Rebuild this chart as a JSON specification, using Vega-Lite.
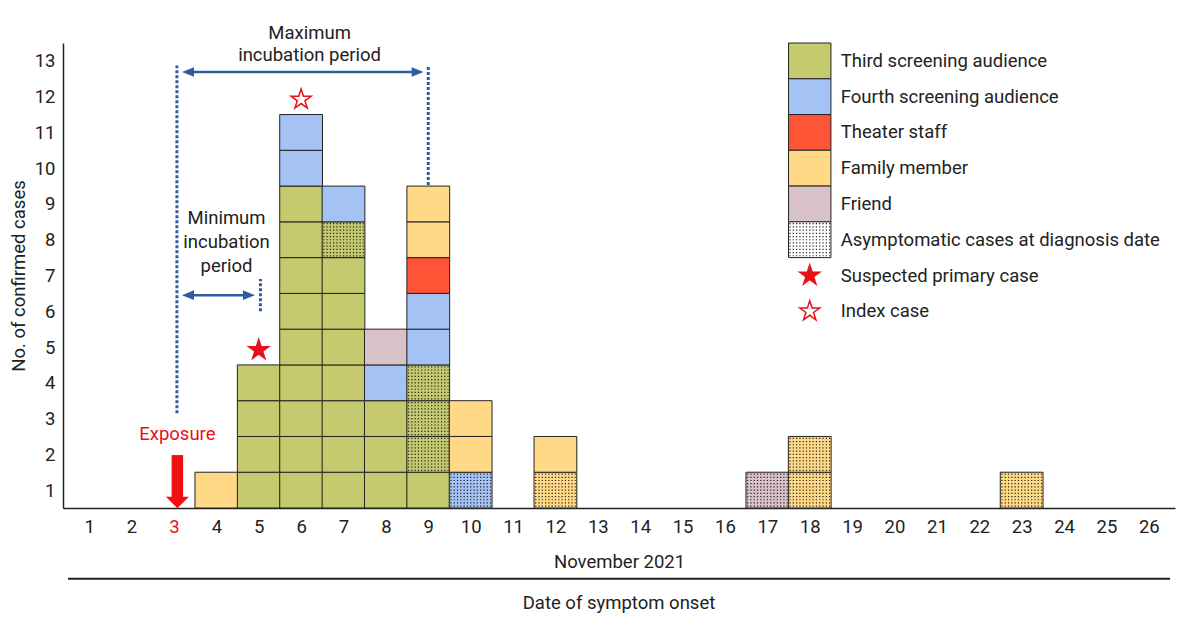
{
  "$schema": "https://vega.github.io/schema/vega-lite/v6.json",
  "width": 1112,
  "height": 465,
  "autosize": {"type": "none"},
  "padding": {"left": 63, "top": 43, "right": 25, "bottom": 123},
  "background": "white",
  "config": {
    "view": {"stroke": null},
    "font": "Roboto",
    "axis": {"grid": false, "ticks": false, "labelFontSize": 18.5, "titleFontSize": 18.5, "titleFontWeight": "normal", "domainColor": "#222", "domainWidth": 1.5, "labelColor": "#222", "titleColor": "#222", "labelFont": "Roboto", "titleFont": "Roboto", "labelOverlap": false}
  },
  "datasets": {
    "cells": [
      {"day": 4, "level": 1, "group": "Family member", "asym": false},
      {"day": 5, "level": 1, "group": "Third screening audience", "asym": false},
      {"day": 5, "level": 2, "group": "Third screening audience", "asym": false},
      {"day": 5, "level": 3, "group": "Third screening audience", "asym": false},
      {"day": 5, "level": 4, "group": "Third screening audience", "asym": false},
      {"day": 6, "level": 1, "group": "Third screening audience", "asym": false},
      {"day": 6, "level": 2, "group": "Third screening audience", "asym": false},
      {"day": 6, "level": 3, "group": "Third screening audience", "asym": false},
      {"day": 6, "level": 4, "group": "Third screening audience", "asym": false},
      {"day": 6, "level": 5, "group": "Third screening audience", "asym": false},
      {"day": 6, "level": 6, "group": "Third screening audience", "asym": false},
      {"day": 6, "level": 7, "group": "Third screening audience", "asym": false},
      {"day": 6, "level": 8, "group": "Third screening audience", "asym": false},
      {"day": 6, "level": 9, "group": "Third screening audience", "asym": false},
      {"day": 6, "level": 10, "group": "Fourth screening audience", "asym": false},
      {"day": 6, "level": 11, "group": "Fourth screening audience", "asym": false},
      {"day": 7, "level": 1, "group": "Third screening audience", "asym": false},
      {"day": 7, "level": 2, "group": "Third screening audience", "asym": false},
      {"day": 7, "level": 3, "group": "Third screening audience", "asym": false},
      {"day": 7, "level": 4, "group": "Third screening audience", "asym": false},
      {"day": 7, "level": 5, "group": "Third screening audience", "asym": false},
      {"day": 7, "level": 6, "group": "Third screening audience", "asym": false},
      {"day": 7, "level": 7, "group": "Third screening audience", "asym": false},
      {"day": 7, "level": 8, "group": "Third screening audience", "asym": true},
      {"day": 7, "level": 9, "group": "Fourth screening audience", "asym": false},
      {"day": 8, "level": 1, "group": "Third screening audience", "asym": false},
      {"day": 8, "level": 2, "group": "Third screening audience", "asym": false},
      {"day": 8, "level": 3, "group": "Third screening audience", "asym": false},
      {"day": 8, "level": 4, "group": "Fourth screening audience", "asym": false},
      {"day": 8, "level": 5, "group": "Friend", "asym": false},
      {"day": 9, "level": 1, "group": "Third screening audience", "asym": false},
      {"day": 9, "level": 2, "group": "Third screening audience", "asym": true},
      {"day": 9, "level": 3, "group": "Third screening audience", "asym": true},
      {"day": 9, "level": 4, "group": "Third screening audience", "asym": true},
      {"day": 9, "level": 5, "group": "Fourth screening audience", "asym": false},
      {"day": 9, "level": 6, "group": "Fourth screening audience", "asym": false},
      {"day": 9, "level": 7, "group": "Theater staff", "asym": false},
      {"day": 9, "level": 8, "group": "Family member", "asym": false},
      {"day": 9, "level": 9, "group": "Family member", "asym": false},
      {"day": 10, "level": 1, "group": "Fourth screening audience", "asym": true},
      {"day": 10, "level": 2, "group": "Family member", "asym": false},
      {"day": 10, "level": 3, "group": "Family member", "asym": false},
      {"day": 12, "level": 1, "group": "Family member", "asym": true},
      {"day": 12, "level": 2, "group": "Family member", "asym": false},
      {"day": 17, "level": 1, "group": "Friend", "asym": true},
      {"day": 18, "level": 1, "group": "Family member", "asym": true},
      {"day": 18, "level": 2, "group": "Family member", "asym": true},
      {"day": 23, "level": 1, "group": "Family member", "asym": true}
    ],
    "stars": [
      {"day": 5, "cases": 4, "type": "Suspected primary case"},
      {"day": 6, "cases": 11, "type": "Index case"}
    ],
    "legend": [
      {"label": "Third screening audience", "kind": "swatch"},
      {"label": "Fourth screening audience", "kind": "swatch"},
      {"label": "Theater staff", "kind": "swatch"},
      {"label": "Family member", "kind": "swatch"},
      {"label": "Friend", "kind": "swatch"},
      {"label": "Asymptomatic cases at diagnosis date", "kind": "pattern"},
      {"label": "Suspected primary case", "kind": "filled star"},
      {"label": "Index case", "kind": "open star"}
    ],
    "one": [{}]
  },
  "layer": [
    {
      "layer": [
        {
          "data": {"name": "cells"},
          "mark": {"type": "bar", "width": 42.77, "stroke": "#222", "strokeWidth": 1},
          "encoding": {
            "x": {"field": "day", "type": "quantitative", "scale": {"domain": [0.5, 26.5], "nice": false, "zero": false},
              "axis": {"values": [1,2,3,4,5,6,7,8,9,10,11,12,13,14,15,16,17,18,19,20,21,22,23,24,25,26], "format": "d", "title": "November 2021", "labelPadding": 9, "titlePadding": 17, "labelOverlap": false,
                "labelColor": {"condition": {"test": "datum.value === 3", "value": "#e8101a"}, "value": "#222"}}},
            "y": {"aggregate": "count", "type": "quantitative", "stack": "zero", "scale": {"domain": [0, 13], "nice": false},
              "axis": {"values": [0.5,1.5,2.5,3.5,4.5,5.5,6.5,7.5,8.5,9.5,10.5,11.5,12.5], "tickCount": 20, "labelExpr": "datum.value + 0.5", "title": "No. of confirmed cases", "labelPadding": 8, "titlePadding": 6, "labelOverlap": false, "labelBound": false, "labelFlush": false}},
            "detail": {"field": "level"},
            "order": {"field": "level", "type": "quantitative", "sort": "ascending"},
            "color": {"field": "group", "type": "nominal",
              "scale": {"domain": ["Third screening audience", "Fourth screening audience", "Theater staff", "Family member", "Friend", "Asymptomatic cases at diagnosis date"],
                        "range": ["#c5ca6e", "#a4c2f4", "#ff5436", "#ffd986", "#d9c2c7", "#ffffff"]},
              "legend": null}
          }
        },
        {
          "data": {"name": "cells"},
          "transform": [{"filter": "datum.asym"}],
          "mark": {"type": "point", "shape": "M-0.95,-0.75H0.95M-0.95,-0.6H0.95M-0.95,-0.45H0.95M-0.95,-0.3H0.95M-0.95,-0.15H0.95M-0.95,0H0.95M-0.95,0.15H0.95M-0.95,0.3H0.95M-0.95,0.45H0.95M-0.95,0.6H0.95M-0.95,0.75H0.95",
                   "size": 1829, "filled": false, "stroke": "#222", "strokeWidth": 1.2, "strokeDash": [1.2, 2.1], "opacity": 1, "yOffset": 17.9},
          "encoding": {
            "x": {"field": "day", "type": "quantitative"},
            "y": {"field": "level", "type": "quantitative"}
          }
        },
        {
          "data": {"name": "stars"},
          "mark": {"type": "point", "shape": "M0,-1L0.2245,-0.309L0.951,-0.309L0.363,0.118L0.588,0.809L0,0.382L-0.588,0.809L-0.363,0.118L-0.951,-0.309L-0.2245,-0.309Z",
                   "size": 441, "filled": true, "stroke": "#e8101a", "strokeWidth": 1.5, "opacity": 1, "yOffset": -15},
          "encoding": {
            "x": {"field": "day", "type": "quantitative"},
            "y": {"field": "cases", "type": "quantitative"},
            "fill": {"condition": {"test": "datum.type === 'Index case'", "value": "white"}, "value": "#e8101a"}
          }
        },
        {
          "data": {"name": "one"},
          "mark": {"type": "rule", "stroke": "#2f5b9f", "strokeWidth": 3, "strokeDash": [3, 2]},
          "encoding": {"x": {"datum": 3.07}, "y": {"datum": 2.65}, "y2": {"datum": 12.37}}
        },
        {
          "data": {"name": "one"},
          "mark": {"type": "rule", "stroke": "#2f5b9f", "strokeWidth": 3, "strokeDash": [3, 2]},
          "encoding": {"x": {"datum": 9}, "y": {"datum": 9.03}, "y2": {"datum": 12.33}}
        },
        {
          "data": {"name": "one"},
          "mark": {"type": "rule", "stroke": "#2f5b9f", "strokeWidth": 3, "strokeDash": [3, 2]},
          "encoding": {"x": {"datum": 5.04}, "y": {"datum": 5.5}, "y2": {"datum": 6.4}}
        },
        {
          "data": {"name": "one"},
          "mark": {"type": "rule", "stroke": "#2f5b9f", "strokeWidth": 2.5},
          "encoding": {"x": {"datum": 3.3}, "x2": {"datum": 8.8}, "y": {"datum": 12.19}}
        },
        {
          "data": {"name": "one"},
          "mark": {"type": "rule", "stroke": "#2f5b9f", "strokeWidth": 2.5},
          "encoding": {"x": {"datum": 3.3}, "x2": {"datum": 4.8}, "y": {"datum": 5.95}}
        },
        {
          "data": {"name": "one"},
          "mark": {"type": "point", "shape": "M0,0L2,-0.8L2,0.8Z", "size": 144, "filled": true, "fill": "#2f5b9f", "opacity": 1},
          "encoding": {"x": {"datum": 3.19}, "y": {"datum": 12.19}}
        },
        {
          "data": {"name": "one"},
          "mark": {"type": "point", "shape": "M0,0L-2,-0.8L-2,0.8Z", "size": 144, "filled": true, "fill": "#2f5b9f", "opacity": 1},
          "encoding": {"x": {"datum": 8.89}, "y": {"datum": 12.19}}
        },
        {
          "data": {"name": "one"},
          "mark": {"type": "point", "shape": "M0,0L2,-0.8L2,0.8Z", "size": 144, "filled": true, "fill": "#2f5b9f", "opacity": 1},
          "encoding": {"x": {"datum": 3.19}, "y": {"datum": 5.95}}
        },
        {
          "data": {"name": "one"},
          "mark": {"type": "point", "shape": "M0,0L-2,-0.8L-2,0.8Z", "size": 144, "filled": true, "fill": "#2f5b9f", "opacity": 1},
          "encoding": {"x": {"datum": 4.91}, "y": {"datum": 5.95}}
        },
        {
          "data": {"name": "one"},
          "mark": {"type": "rule", "stroke": "#f01010", "strokeWidth": 11.5, "strokeCap": "butt"},
          "encoding": {"x": {"datum": 3.08}, "y": {"datum": 1.48}, "y2": {"datum": 0.3}}
        },
        {
          "data": {"name": "one"},
          "mark": {"type": "point", "shape": "M-1,-0.5L1,-0.5L0,0.5Z", "size": 529, "filled": true, "fill": "#f01010", "opacity": 1},
          "encoding": {"x": {"datum": 3.08}, "y": {"datum": 0.154}}
        },
        {
          "data": {"name": "one"},
          "mark": {"type": "text", "text": "Exposure", "fontSize": 18.5, "color": "#e8101a", "baseline": "middle", "align": "center"},
          "encoding": {"x": {"datum": 3.08}, "y": {"datum": 2.07}}
        },
        {
          "data": {"name": "one"},
          "mark": {"type": "text", "text": ["Maximum", "incubation period"], "lineHeight": 22.5, "fontSize": 18.5, "color": "#222", "baseline": "middle", "align": "center"},
          "encoding": {"x": {"datum": 6.2}, "y": {"datum": 13.28}}
        },
        {
          "data": {"name": "one"},
          "mark": {"type": "text", "text": ["Minimum", "incubation", "period"], "lineHeight": 24, "fontSize": 18.5, "color": "#222", "baseline": "middle", "align": "center"},
          "encoding": {"x": {"datum": 4.24}, "y": {"datum": 8.11}}
        },
        {
          "data": {"name": "one"},
          "mark": {"type": "rule", "stroke": "#222", "strokeWidth": 2},
          "encoding": {"x": {"datum": 0.5}, "x2": {"datum": 26.5}, "y": {"datum": -1.98}}
        },
        {
          "data": {"name": "one"},
          "mark": {"type": "text", "text": "Date of symptom onset", "fontSize": 18.5, "color": "#222", "baseline": "middle", "align": "center"},
          "encoding": {"x": {"datum": 13.5}, "y": {"datum": -2.66}}
        }
      ]
    },
    {
      "data": {"name": "legend"},
      "encoding": {
        "y": {"field": "label", "type": "nominal", "sort": null, "axis": null,
          "scale": {"type": "band", "paddingInner": 0, "paddingOuter": 0, "range": [0, 286.16],
            "domain": ["Third screening audience", "Fourth screening audience", "Theater staff", "Family member", "Friend", "Asymptomatic cases at diagnosis date", "Suspected primary case", "Index case"]}}
      },
      "layer": [
        {
          "transform": [{"filter": "datum.kind === 'swatch' || datum.kind === 'pattern'"}],
          "mark": {"type": "rect", "stroke": "#222", "strokeWidth": 1},
          "encoding": {
            "x": {"datum": 17.5}, "x2": {"datum": 18.5},
            "color": {"field": "label", "type": "nominal", "legend": null}
          }
        },
        {
          "transform": [{"filter": "datum.kind === 'pattern'"}],
          "mark": {"type": "point", "shape": "M-0.95,-0.75H0.95M-0.95,-0.6H0.95M-0.95,-0.45H0.95M-0.95,-0.3H0.95M-0.95,-0.15H0.95M-0.95,0H0.95M-0.95,0.15H0.95M-0.95,0.3H0.95M-0.95,0.45H0.95M-0.95,0.6H0.95M-0.95,0.75H0.95",
                   "size": 1829, "filled": false, "stroke": "#222", "strokeWidth": 1.2, "strokeDash": [1.2, 2.1], "opacity": 1},
          "encoding": {"x": {"datum": 18}}
        },
        {
          "transform": [{"filter": "datum.kind === 'filled star' || datum.kind === 'open star'"}],
          "mark": {"type": "point", "shape": "M0,-1L0.2245,-0.309L0.951,-0.309L0.363,0.118L0.588,0.809L0,0.382L-0.588,0.809L-0.363,0.118L-0.951,-0.309L-0.2245,-0.309Z",
                   "size": 441, "filled": true, "stroke": "#e8101a", "strokeWidth": 1.5, "opacity": 1},
          "encoding": {
            "x": {"datum": 18},
            "fill": {"condition": {"test": "datum.kind === 'open star'", "value": "white"}, "value": "#e8101a"}
          }
        },
        {
          "mark": {"type": "text", "align": "left", "baseline": "middle", "dx": 31, "fontSize": 18.5, "color": "#222"},
          "encoding": {"x": {"datum": 18}, "text": {"field": "label"}}
        }
      ]
    }
  ],
  "resolve": {"scale": {"y": "independent"}}
}
